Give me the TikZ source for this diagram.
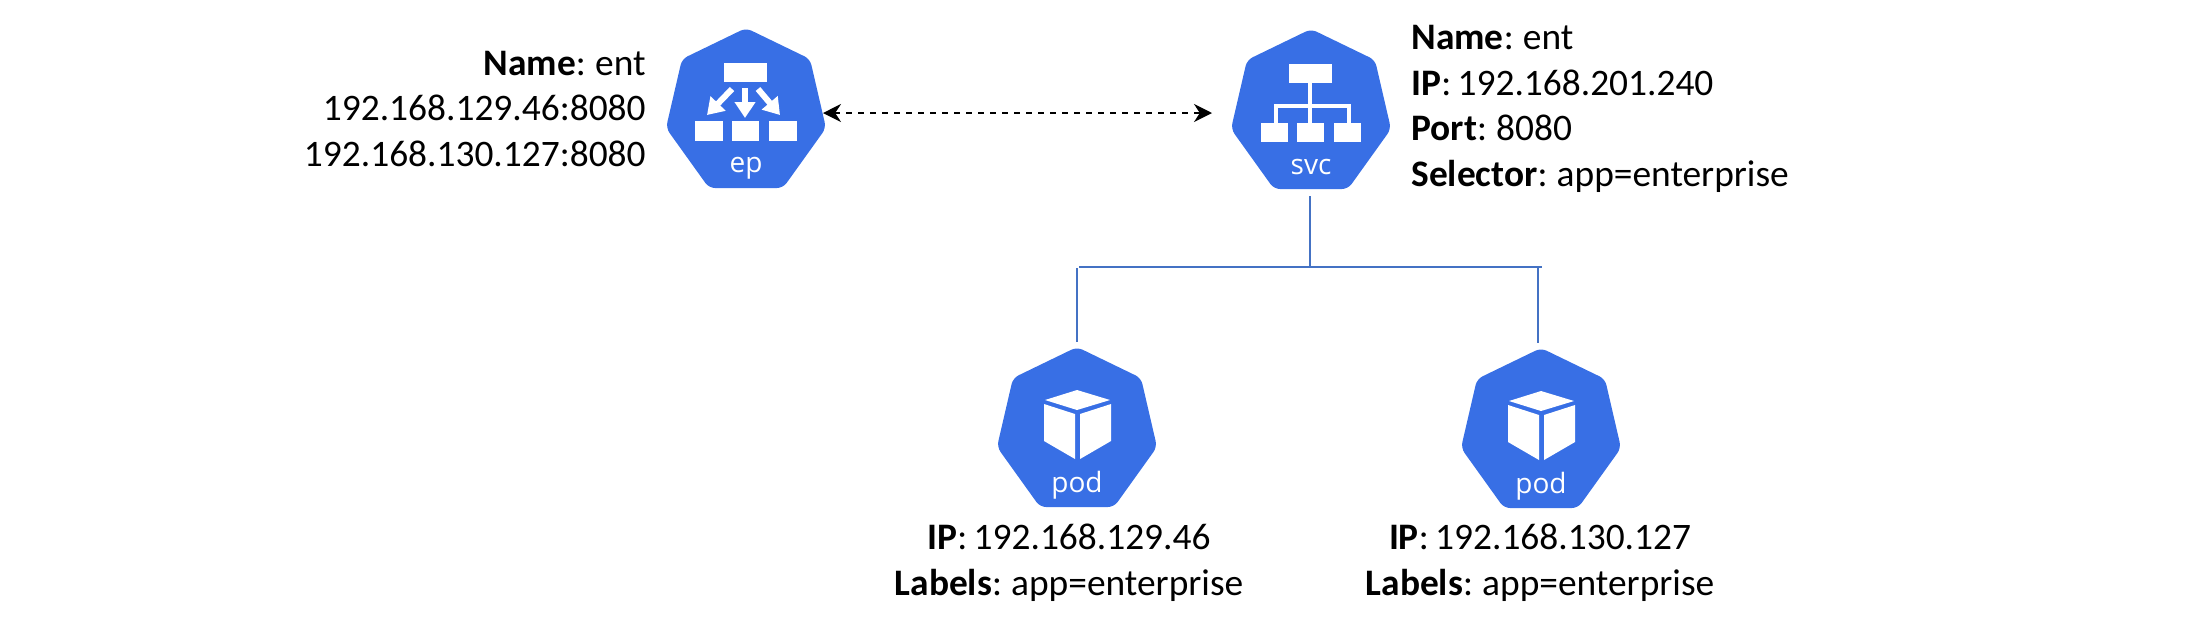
\documentclass[tikz,border=0pt]{standalone}
\usepackage{fontspec}
\setmainfont[WordSpace=0.75]{Carlito}
\newfontfamily\iconfont{Open Sans}
\usetikzlibrary{arrows.meta}
\definecolor{kube}{HTML}{386FE5}
\definecolor{linkblue}{HTML}{4472C4}
\tikzset{
  hept/.style={fill=kube,rounded corners=3pt},
  glyph/.style={fill=white},
  glyphline/.style={draw=white,line width=2pt},
  glypharrow/.style={draw=white,line width=3pt,-{Triangle[length=8pt,width=10pt]}},
  hepttext/.style={text=white,font=\iconfont\fontsize{14}{17}\selectfont,inner sep=0pt},
  hitbox/.style={minimum width=78pt,minimum height=80pt,inner sep=0pt},
  infotext/.style={font=\fontsize{18.7}{22.8}\selectfont,inner sep=0pt,text=black},
  link/.style={draw=linkblue,line width=1.1pt},
  dashlink/.style={draw=black,line width=1pt,dashed,{Stealth[length=9pt,width=9pt]}-{Stealth[length=9pt,width=9pt]}}
}
\newcommand{\heptagon}[3]{% name, apex x, apex y
  \fill[hept,shift={(#2*0.5pt,-#3*0.5pt)}] (0,-1) -- (64,30) -- (80,99) -- (37,159) -- (-37,159) -- (-80,99) -- (-64,30) -- cycle;
  \node[hitbox] (#1) at (#2,#3+80) {};
}
\begin{document}
\begin{tikzpicture}[x=0.5pt,y=-0.5pt]
\useasboundingbox (0,0) rectangle (2190,634);
% endpoint
\heptagon{ep}{746}{29}
\fill[glyph] (724,63) rectangle (767,82);
\fill[glyph] (695,121) rectangle (723,141);
\fill[glyph] (732,121) rectangle (759,141);
\fill[glyph] (769,121) rectangle (797,141);
\draw[glypharrow] (745,88) -- (745,118);
\draw[glypharrow] (732,89) -- (707,115);
\draw[glypharrow] (758,89) -- (780,115);
\node[hepttext] (eplabel) at (746,168) {ep};
% service
\heptagon{svc}{1311}{30}
\fill[glyph] (1289,64) rectangle (1332,83);
\fill[glyph] (1261,123) rectangle (1288,142);
\fill[glyph] (1297,123) rectangle (1324,142);
\fill[glyph] (1334,123) rectangle (1361,142);
\draw[glyphline] (1310,83) -- (1310,123);
\draw[glyphline] (1276,123) -- (1276,106) -- (1349,106) -- (1349,123);
\node[hepttext] (svclabel) at (1311,167) {svc};
% pods
\heptagon{podA}{1077}{348}
\heptagon{podB}{1541}{349}
\foreach \cx/\cy/\nm in {1077/348/podAlabel,1541/349/podBlabel}{
  \begin{scope}[shift={(\cx*0.5pt,-\cy*0.5pt)}]
    \fill[glyph] (0,42) -- (33,52) -- (0,62) -- (-32,52) -- cycle;
    \fill[glyph] (-33,56) -- (-2,66) -- (-2,111) -- (-33,93) -- cycle;
    \fill[glyph] (3,66) -- (34,56) -- (34,93) -- (3,111) -- cycle;
    \node[hepttext] (\nm) at (0,137) {pod};
  \end{scope}
}
% info texts
\node[infotext,anchor=east,align=right] (epinfo) at (646,109) {\textbf{Name}: ent\\192.168.129.46:8080\\192.168.130.127:8080};
\node[infotext,anchor=west,align=left] (svcinfo) at (1411,109) {\textbf{Name}: ent\\\textbf{IP}: 192.168.201.240\\\textbf{Port}: 8080\\\textbf{Selector}: app=enterprise};
\node[infotext,align=center] (podAinfo) at (1069,563) {\textbf{IP}: 192.168.129.46\\\textbf{Labels}: app=enterprise};
\node[infotext,align=center] (podBinfo) at (1540,563) {\textbf{IP}: 192.168.130.127\\\textbf{Labels}: app=enterprise};
% connectors
\coordinate (hub) at (1310,267);
\coordinate (hubL) at (1079,267);
\coordinate (hubR) at (1542,267);
\coordinate (dropL) at (1077,268);
\coordinate (dropR) at (1538,268);
\coordinate (epport) at (823,113);
\coordinate (svcport) at (1212,113);
\draw[dashlink] (epport) -- (svcport);
\draw[link,shorten <=3pt] (svc.south -| hub) -- (hub);
\draw[link] (hubL) -- (hubR);
\draw[link,shorten >=3pt] (dropL) -- (dropL |- podA.north);
\draw[link,shorten >=3pt] (dropR) -- (dropR |- podB.north);
\end{tikzpicture}
\end{document}
